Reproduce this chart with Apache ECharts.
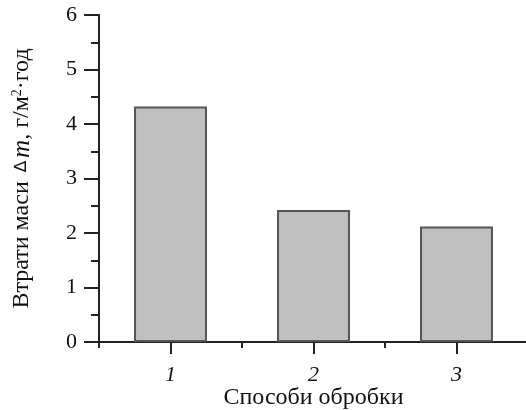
<!DOCTYPE html>
<html>
<head>
<meta charset="utf-8">
<script src="https://cdn.jsdelivr.net/npm/echarts@6/dist/echarts.min.js"></script>
<style>
  html, body { margin: 0; padding: 0; background: #fff; }
  #chart { width: 526px; height: 410px; }
</style>
</head>
<body>
<div id="chart"></div>
<script>
// Treatment methods and the mass loss for each
const methods = ['1', '2', '3'];
const massLoss = [4.32, 2.42, 2.12];
const yMin = 0, yMax = 6, yStep = 1;

const serif = '"Liberation Serif", "DejaVu Serif", serif';
const axisColor = '#222';

const chart = echarts.init(document.getElementById('chart'), null, { renderer: 'canvas' });

chart.setOption({
  animation: false,
  backgroundColor: '#fff',
  grid: { left: 99, right: -2, top: 15, bottom: 68, containLabel: false, outerBoundsMode: 'none' },
  xAxis: [
    {
      type: 'category',
      data: methods,
      boundaryGap: true,
      name: 'Способи обробки',
      nameLocation: 'middle',
      nameGap: 44,
      nameMoveOverlap: false,
      nameTextStyle: { fontFamily: serif, fontSize: 24, color: '#111' },
      axisLine: { show: true, lineStyle: { color: axisColor, width: 2 } },
      axisTick: { show: true, alignWithLabel: true, length: 12, lineStyle: { color: axisColor, width: 2 } },
      axisLabel: { show: true, margin: 22, fontFamily: serif, fontStyle: 'italic', fontSize: 22, color: '#111' },
      splitLine: { show: false }
    },
    {
      // boundary ticks between the categories
      type: 'category',
      data: methods,
      position: 'bottom',
      boundaryGap: true,
      axisLine: { show: false },
      axisTick: { show: true, length: 6, lineStyle: { color: axisColor, width: 2 } },
      axisLabel: { show: false },
      splitLine: { show: false }
    }
  ],
  yAxis: {
    type: 'value',
    min: yMin,
    max: yMax,
    interval: yStep,
    name: '{a|Втрати маси }{d|∆}{m|m}{a|, г/м}{s|2}{a|·год}',
    nameLocation: 'middle',
    nameRotate: 90,
    nameGap: 65,
    nameMoveOverlap: false,
    nameTextStyle: {
      fontFamily: serif,
      fontSize: 24,
      color: '#111',
      rich: {
        a: { fontFamily: serif, fontSize: 24, color: '#111', lineHeight: 24 },
        d: { fontFamily: '"DejaVu Sans", sans-serif', fontSize: 17, color: '#111', lineHeight: 24, padding: [0, 3, 0, 3] },
        m: { fontFamily: serif, fontSize: 25, fontStyle: 'italic', color: '#111', lineHeight: 24 },
        s: { fontFamily: serif, fontSize: 14, color: '#111', lineHeight: 14, verticalAlign: 'top' }
      }
    },
    axisLine: { show: true, lineStyle: { color: axisColor, width: 2 } },
    axisTick: { show: true, length: 15, lineStyle: { color: axisColor, width: 2 } },
    minorTick: { show: true, splitNumber: 2, length: 8, lineStyle: { color: axisColor, width: 2 } },
    axisLabel: { margin: 22, fontFamily: serif, fontSize: 22, color: '#111' },
    splitLine: { show: false },
    minorSplitLine: { show: false }
  },
  series: [
    {
      type: 'bar',
      data: massLoss,
      barWidth: '51%',
      itemStyle: { color: '#c0c0c0', borderColor: '#555', borderWidth: 2 }
    }
  ]
});
</script>
</body>
</html>
